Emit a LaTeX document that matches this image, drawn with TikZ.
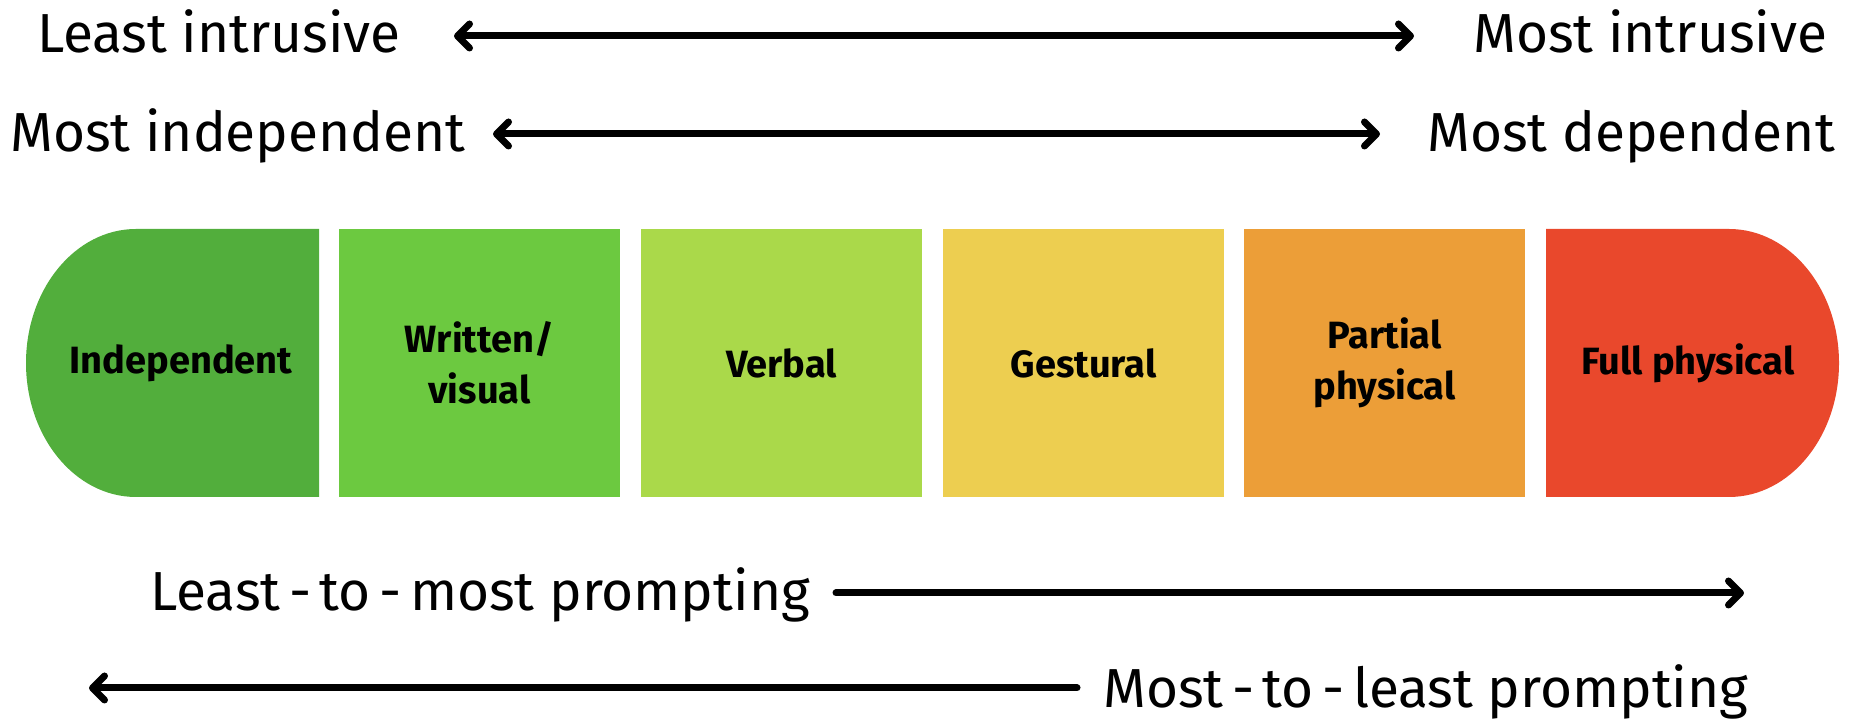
\documentclass[tikz,border=0pt]{standalone}
\usepackage{fontspec}
\setmainfont{Fira Sans}
\usetikzlibrary{arrows.meta}
\definecolor{cInd}{HTML}{52AE3C}
\definecolor{cWri}{HTML}{6CC940}
\definecolor{cVer}{HTML}{AAD94A}
\definecolor{cGes}{HTML}{EDCE50}
\definecolor{cPar}{HTML}{EC9E38}
\definecolor{cFul}{HTML}{E9482C}
\newcommand{\hy}{\hspace{8.5pt}-\hspace{8.5pt}}
\begin{document}
\begin{tikzpicture}[x=1pt,y=1pt,
  lab/.style={font=\fontsize{55}{62}\selectfont, inner sep=0pt},
  boxlab/.style={font=\bfseries\fontsize{38}{51}\selectfont, align=center, inner sep=0pt},
  seg/.style={minimum width=281pt, minimum height=268pt, inner sep=0pt, draw=none},
  arr/.style={line width=7pt, line cap=round},
  chev/.tip={Straight Barb[round, length=12pt, width=24pt]}]
\useasboundingbox (0,0) rectangle (1860,719);
% ends with rounded outer sides
\fill[cInd] (319,222) -- (319,490) -- (136,490) arc[start angle=90, end angle=270, x radius=110, y radius=134] -- cycle;
\fill[cFul] (1546,222) -- (1546,490) -- (1729,490) arc[start angle=90, end angle=-90, x radius=110, y radius=134] -- cycle;
\node[seg, fill=cWri] (wri) at (479.5,356) {};
\node[seg, fill=cVer] (ver) at (781.5,356) {};
\node[seg, fill=cGes] (ges) at (1083.5,356) {};
\node[seg, fill=cPar] (par) at (1384.5,356) {};
% box labels
\node[boxlab] (tind) at (181,356) {Independent};
\node[boxlab] (twri) at (wri) {Written/\\visual};
\node[boxlab] (tver) at (ver) {Verbal};
\node[boxlab] (tges) at (ges) {Gestural};
\node[boxlab] (tpar) at (par) {Partial\\physical};
\node[boxlab] (tful) at (1688,356) {Full physical};
% top labels
\node[lab, anchor=base east] (li) at (401,666) {Least intrusive};
\node[lab, anchor=base west] (mi) at (1473,666) {Most intrusive};
\node[lab, anchor=base east] (mind) at (466,567) {Most independent};
\node[lab, anchor=base west] (mdep) at (1427,567) {Most dependent};
\node[lab, anchor=base east] (ltm) at (810,108) {Least\hy to\hy most prompting};
\node[lab, anchor=base west] (mtl) at (1103,11) {Most\hy to\hy least prompting};
% arrow ends
\coordinate (a1l) at (454,683); \coordinate (a1r) at (1414,683);
\coordinate (a2l) at (493,585); \coordinate (a2r) at (1380,585);
\coordinate (a3l) at (836,126); \coordinate (a3r) at (1744,126);
\coordinate (a4l) at (89,31);   \coordinate (a4r) at (1077,31);
\draw[arr, chev-chev] (a1l) -- (a1r);
\draw[arr, chev-chev] (a2l) -- (a2r);
\draw[arr, -chev] (a3l) -- (a3r);
\draw[arr, chev-] (a4l) -- (a4r);
\end{tikzpicture}
\end{document}
